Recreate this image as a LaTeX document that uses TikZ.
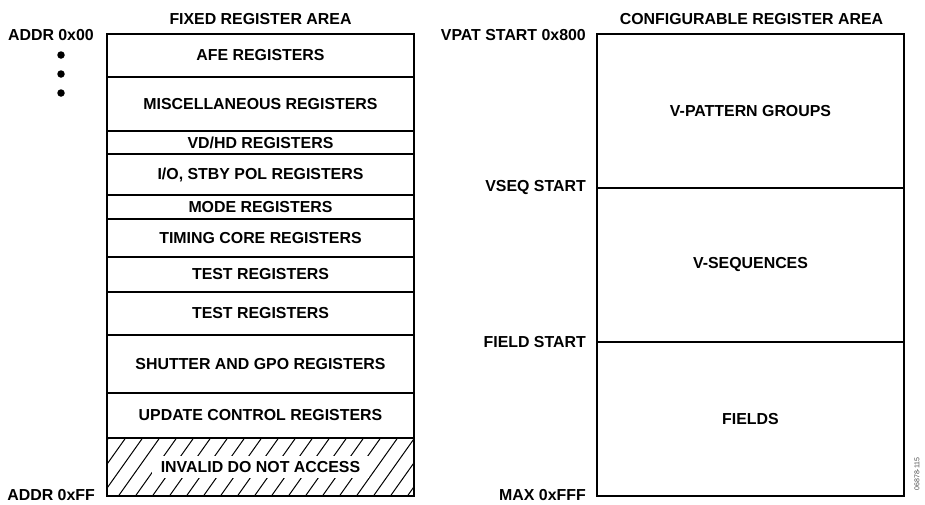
\documentclass[tikz,border=0pt]{standalone}
\usepackage{fontspec}
\setmainfont{Liberation Sans}
\begin{document}
\begin{tikzpicture}[x=1pt,y=-1pt,
  txt/.style={font=\fontsize{15.9}{18}\selectfont\bfseries, inner sep=0pt},
  lrow/.style={draw, line width=1.8pt, minimum width=307pt, inner sep=0pt, outer sep=0pt, txt},
  rrow/.style={draw, line width=1.2pt, minimum width=307pt, inner sep=0pt, outer sep=0pt, txt},
  lab/.style={txt, anchor=east},
  dotc/.style={circle, fill=black, inner sep=0pt, minimum size=7.5pt}
]
\useasboundingbox (0,0) rectangle (925,504);

% titles
\node[txt] (t1) at (260.5,19) {FIXED REGISTER AREA};
\node[txt] (t2) at (751.5,19) {CONFIGURABLE REGISTER AREA};

% left rows
\node[lrow, minimum height=43pt] (afe) at (260.5,55.5) {AFE REGISTERS};
\node[lrow, minimum height=54pt] (misc) at (260.5,104) {MISCELLANEOUS REGISTERS};
\node[lrow, minimum height=23pt] (vdhd) at (260.5,142.5) {VD/HD REGISTERS};
\node[lrow, minimum height=41pt] (io) at (260.5,174.5) {I/O, STBY POL REGISTERS};
\node[lrow, minimum height=24pt] (mode) at (260.5,207) {MODE REGISTERS};
\node[lrow, minimum height=38pt] (timing) at (260.5,238) {TIMING CORE REGISTERS};
\node[lrow, minimum height=35pt] (test1) at (260.5,274.5) {TEST REGISTERS};
\node[lrow, minimum height=43pt] (test2) at (260.5,313.5) {TEST REGISTERS};
\node[lrow, minimum height=58pt] (shutter) at (260.5,364) {SHUTTER AND GPO REGISTERS};
\node[lrow, minimum height=45pt] (update) at (260.5,415.5) {UPDATE CONTROL REGISTERS};
\node[lrow, minimum height=58pt] (invalid) at (260.5,467) {};

% hatching
\begin{scope}
  \clip (invalid.south west) rectangle (invalid.north east);
  \foreach \i in {-4,...,21}
    \draw[line width=1pt] (\i*17+100,498) -- ++(44,-62);
\end{scope}
\node[txt, fill=white, inner xsep=9pt, inner ysep=5pt] (invtxt) at (invalid.center) {INVALID DO NOT ACCESS};
\draw[line width=1.8pt] (invalid.north west) rectangle (invalid.south east);

% left frame
\draw[line width=2.6pt] (afe.north west) rectangle (invalid.south east);

% right rows
\node[rrow, minimum height=154pt] (vpat) at (750.5,111) {V-PATTERN GROUPS};
\node[rrow, minimum height=154pt] (vseq) at (750.5,265) {V-SEQUENCES};
\node[rrow, minimum height=154pt] (fields) at (750.5,419) {FIELDS};
\draw[line width=2.6pt] (vpat.north west) rectangle (fields.south east);

% left labels
\node[lab] (a0) at (94,35) {ADDR 0x00};
\node[dotc] (d1) at (61,55) {};
\node[dotc] (d2) at (61,74) {};
\node[dotc] (d3) at (61,93) {};
\node[lab] (aff) at (95,495) {ADDR 0xFF};

% right labels
\node[lab] (l1) at (586,35) {VPAT START 0x800};
\node[lab] (l2) at (586,188) {VSEQ START};
\node[lab] (l3) at (586,342) {FIELD START};
\node[lab] (l4) at (586,495) {MAX 0xFFF};

% side id
\node[font=\fontsize{7}{8}\selectfont, text=black!70, rotate=90, inner sep=0pt] (sid) at (917,474) {06878-115};
\end{tikzpicture}
\end{document}
